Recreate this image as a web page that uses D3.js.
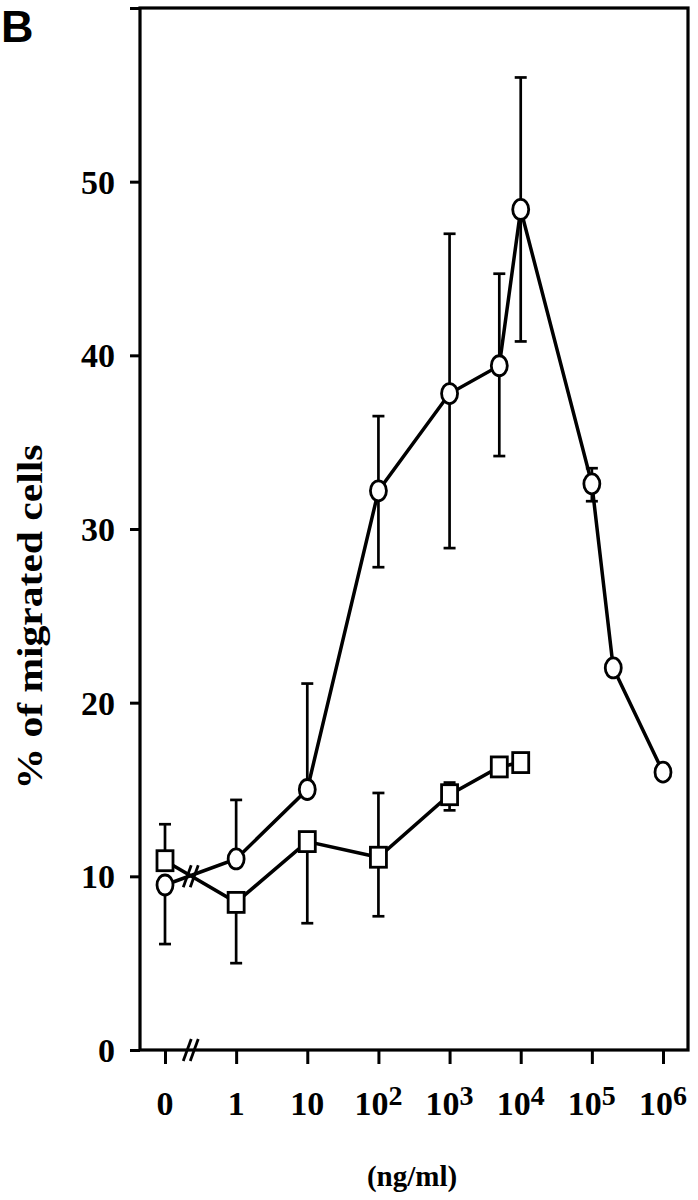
<!DOCTYPE html>
<html>
<head>
<meta charset="utf-8">
<script src="https://cdn.jsdelivr.net/npm/d3@7"></script>
<style>
  body { margin: 0; background: #fff; }
  svg { display: block; }
  text { font-family: "Liberation Serif", "Times New Roman", serif; font-weight: bold; fill: #000; }
</style>
</head>
<body>
<svg id="chart" width="698" height="1200"></svg>
<script>
// concentrations (ng/ml); 0 is drawn one decade left of 1
const circleConc = [0, 1, 10, 100, 1000, 5000, 10000, 100000, 200000, 1000000];
const circleVals = [9.5, 11.0, 15.0, 32.2, 37.8, 39.4, 48.4, 32.6, 22.0, 16.0];
const circleLo   = [6.1, null, null, 27.8, 28.9, 34.2, 40.8, 31.6, null, null];
const circleHi   = [null, 14.4, 21.1, 36.5, 47.0, 44.7, 56.0, 33.5, null, null];

const squareConc = [0, 1, 10, 100, 1000, 5000, 10000];
const squareVals = [10.9, 8.5, 12.0, 11.1, 14.7, 16.3, 16.55];
const squareLo   = [null, 5.0, 7.3, 7.7, 13.8, null, null];
const squareHi   = [13.0, null, null, 14.8, 15.4, null, null];

const xTickVals = [0, 1, 10, 100, 1000, 10000, 100000, 1000000];
const xTickBase = ["0", "1", "10", "10", "10", "10", "10", "10"];
const xTickExp  = ["", "", "", "2", "3", "4", "5", "6"];
const yTickVals = [0, 10, 20, 30, 40, 50, 60];

const breakConc = 0.23;   // where the "//" sits between 0 and 1
const zeroAt = 0.1;       // position used for the 0 concentration

const plotL = 140, plotR = 688, plotT = 8, plotB = 1050;

const svg = d3.select("#chart");

const x = d3.scaleLog().domain([zeroAt, 1e6]).range([165, 663]);
const y = d3.scaleLinear().domain([0, 60]).range([plotB, plotT]);
const xp = c => x(c === 0 ? zeroAt : c);

// frame
svg.append("rect")
    .attr("x", plotL).attr("y", plotT)
    .attr("width", plotR - plotL).attr("height", plotB - plotT)
    .attr("fill", "none").attr("stroke", "#000").attr("stroke-width", 3.2);

// y axis
const yAxis = svg.append("g")
    .attr("transform", `translate(${plotL},0)`)
    .call(d3.axisLeft(y).tickValues(yTickVals).tickSize(10).tickPadding(15)
        .tickFormat(d => d === 60 ? "" : d));
yAxis.select(".domain").remove();
yAxis.selectAll("line").attr("stroke", "#000").attr("stroke-width", 3);
yAxis.selectAll("text")
    .style("font-family", '"Liberation Serif", serif')
    .style("font-weight", "bold")
    .style("font-size", "34px")
    .attr("dy", "0.34em");

// x axis
const xAxis = svg.append("g")
    .attr("transform", `translate(0,${plotB})`)
    .call(d3.axisBottom(x).tickValues(xTickVals.map(v => v === 0 ? zeroAt : v))
        .tickSize(14).tickFormat(""));
xAxis.select(".domain").remove();
xAxis.selectAll("line").attr("stroke", "#000").attr("stroke-width", 3);

const xLab = svg.append("g").selectAll("text")
    .data(xTickVals)
    .join("text")
    .attr("x", d => xp(d))
    .attr("y", 1115)
    .attr("text-anchor", "middle")
    .style("font-size", "34px");
xLab.append("tspan").text((d, i) => xTickBase[i]);
xLab.append("tspan")
    .attr("dy", -10)
    .style("font-size", "28px")
    .text((d, i) => xTickExp[i]);

// break marks
function slashes(cx, cy) {
  [-3.5, 3.5].forEach(off => {
    svg.append("line")
        .attr("x1", cx + off - 4).attr("y1", cy + 11)
        .attr("x2", cx + off + 4).attr("y2", cy - 11)
        .attr("stroke", "#000").attr("stroke-width", 2.8);
  });
}

// error bars
function errorBars(conc, vals, lo, hi) {
  const g = svg.append("g").attr("stroke", "#000").attr("stroke-width", 2.7);
  conc.forEach((c, i) => {
    const ends = [lo[i], hi[i]].filter(v => v != null);
    ends.forEach(e => {
      g.append("line")
          .attr("x1", xp(c)).attr("x2", xp(c))
          .attr("y1", y(vals[i])).attr("y2", y(e));
      g.append("line")
          .attr("x1", xp(c) - 6).attr("x2", xp(c) + 6)
          .attr("y1", y(e)).attr("y2", y(e));
    });
  });
}
errorBars(circleConc, circleVals, circleLo, circleHi);
errorBars(squareConc, squareVals, squareLo, squareHi);

const line = d3.line().x(d => xp(d[0])).y(d => y(d[1]));

svg.append("path")
    .datum(circleConc.map((c, i) => [c, circleVals[i]]))
    .attr("d", line)
    .attr("fill", "none").attr("stroke", "#000").attr("stroke-width", 3.5);
svg.append("path")
    .datum(squareConc.map((c, i) => [c, squareVals[i]]))
    .attr("d", line)
    .attr("fill", "none").attr("stroke", "#000").attr("stroke-width", 3.5);

slashes(x(breakConc), plotB);
slashes(x(breakConc), y(10));

// markers
svg.append("g").selectAll("ellipse")
    .data(circleConc)
    .join("ellipse")
    .attr("cx", d => xp(d))
    .attr("cy", (d, i) => y(circleVals[i]))
    .attr("rx", 8).attr("ry", 10)
    .attr("fill", "#fff").attr("stroke", "#000").attr("stroke-width", 2.8);

svg.append("g").selectAll("rect")
    .data(squareConc)
    .join("rect")
    .attr("x", d => xp(d) - 8)
    .attr("y", (d, i) => y(squareVals[i]) - 10)
    .attr("width", 16).attr("height", 20)
    .attr("fill", "#fff").attr("stroke", "#000").attr("stroke-width", 2.8);

// axis titles
svg.append("text")
    .attr("transform", "translate(42,617) rotate(-90)")
    .attr("text-anchor", "middle")
    .attr("textLength", 345)
    .attr("lengthAdjust", "spacingAndGlyphs")
    .style("font-size", "36px")
    .text("% of migrated cells");

svg.append("text")
    .attr("x", 412).attr("y", 1186)
    .attr("text-anchor", "middle")
    .style("font-size", "29px")
    .text("(ng/ml)");

// panel letter
svg.append("text")
    .attr("x", 1).attr("y", 42)
    .style("font-family", '"Liberation Sans", Arial, sans-serif')
    .style("font-size", "45px")
    .text("B");
</script>
</body>
</html>
